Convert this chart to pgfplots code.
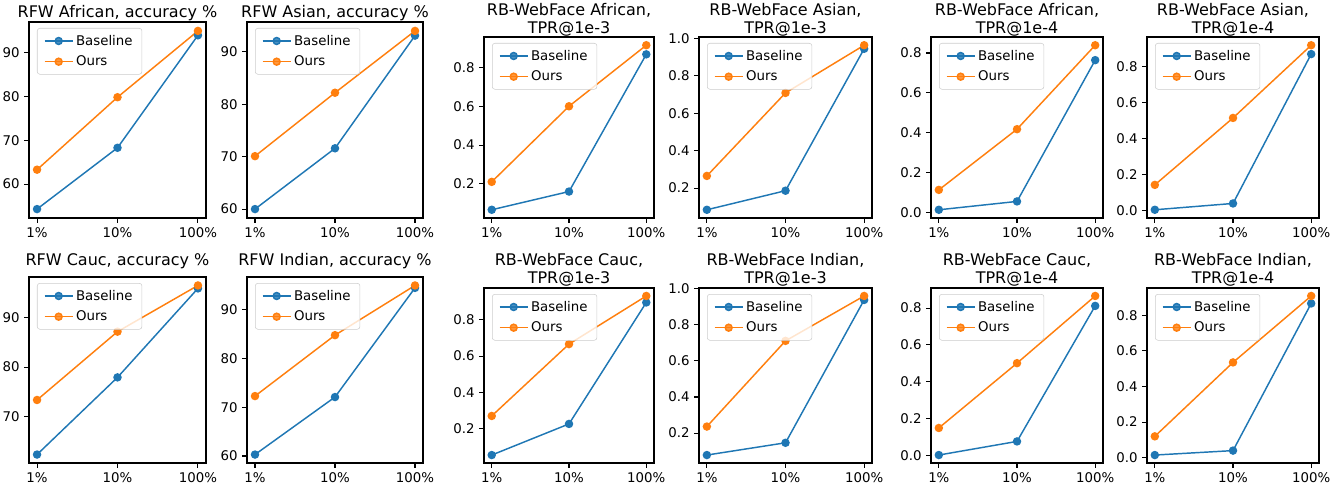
\documentclass[border=0pt]{standalone}
\usepackage{fontspec}
\setmainfont{DejaVu Sans}
\usepackage{pgfplots}
\pgfplotsset{compat=1.18}
\definecolor{mplblue}{HTML}{1F77B4}
\definecolor{mplorange}{HTML}{FF7F0E}

\pgfplotsset{
  panel/.style={
    scale only axis,
    anchor=north west,
    enlarge x limits=0.05,
    enlarge y limits=0.05,
    xtick={0,1,2},
    xticklabels={1\%,10\%,100\%},
    xtick pos=bottom, ytick pos=left,
    tick align=outside,
    major tick length=3.5pt,
    tick style={black, line width=0.8pt},
    axis line style={line width=0.8pt},
    ticklabel style={font=\fontsize{10}{12}\selectfont},
    /pgf/number format/assume math mode=true,
    legend cell align=left,
    legend style={at={(0,1)}, anchor=north west, xshift=6pt, yshift=-4.5pt,
      draw=black!20, rounded corners=2pt, fill=white, fill opacity=0.8, text opacity=1,
      font=\fontsize{10}{12}\selectfont, row sep=2.5pt, inner xsep=5pt, inner ysep=3pt},
    legend image code/.code={\draw[mark repeat=2,mark phase=2,##1] plot coordinates {(0pt,0pt)(10.5pt,0pt)(21pt,0pt)};},
  },
  % title placed with a chosen gap above the axis box
  tgap/.style={every axis title/.style={font=\fontsize{12}{13}\selectfont, align=center,
      at={(0.5,1)}, anchor=south, inner sep=0pt, yshift=#1}},
  base/.style={color=mplblue, line width=1.1pt, mark=*, mark size=2.6pt, mark options={solid}},
  ours/.style={color=mplorange, line width=1.1pt, mark=*, mark size=2.6pt, mark options={solid}},
  frac/.style={yticklabel style={/pgf/number format/.cd, fixed, fixed zerofill, precision=1}},
}

\begin{document}
\begin{tikzpicture}
\useasboundingbox (0,0) rectangle (997.5pt,364.5pt);

% row 1
\begin{axis}[panel, tgap=0.9pt, at={(21.75pt,348pt)}, width=132.75pt, height=147pt,
  ytick={60,70,80,90}, title={RFW African, accuracy \%}]
\addplot[base] coordinates {(0,54.3) (1,68.3) (2,94.0)};
\addplot[ours] coordinates {(0,63.3) (1,79.85) (2,95.0)};
\legend{Baseline,Ours}
\end{axis}

\begin{axis}[panel, tgap=0.9pt, at={(185.25pt,348pt)}, width=132pt, height=147pt,
  ytick={60,70,80,90}, title={RFW Asian, accuracy \%}]
\addplot[base] coordinates {(0,60.0) (1,71.6) (2,93.1)};
\addplot[ours] coordinates {(0,70.1) (1,82.2) (2,94.0)};
\legend{Baseline,Ours}
\end{axis}

\begin{axis}[panel, frac, tgap=0.5pt, at={(363pt,336.75pt)}, width=127.5pt, height=135.75pt,
  ytick={0.2,0.4,0.6,0.8}, title={RB-WebFace African,\\TPR@1e-3}]
\addplot[base] coordinates {(0,0.066) (1,0.160) (2,0.868)};
\addplot[ours] coordinates {(0,0.210) (1,0.600) (2,0.915)};
\legend{Baseline,Ours}
\end{axis}

\begin{axis}[panel, frac, tgap=0.5pt, at={(524.25pt,336.75pt)}, width=129.75pt, height=135.75pt,
  ytick={0.2,0.4,0.6,0.8,1.0}, title={RB-WebFace Asian,\\TPR@1e-3}]
\addplot[base] coordinates {(0,0.084) (1,0.186) (2,0.945)};
\addplot[ours] coordinates {(0,0.265) (1,0.709) (2,0.964)};
\legend{Baseline,Ours}
\end{axis}

\begin{axis}[panel, frac, tgap=0.5pt, at={(698.25pt,336.75pt)}, width=129pt, height=135.75pt,
  ytick={0,0.2,0.4,0.6,0.8}, title={RB-WebFace African,\\TPR@1e-4}]
\addplot[base] coordinates {(0,0.012) (1,0.054) (2,0.764)};
\addplot[ours] coordinates {(0,0.112) (1,0.417) (2,0.839)};
\legend{Baseline,Ours}
\end{axis}

\begin{axis}[panel, frac, tgap=0.5pt, at={(860.25pt,336.75pt)}, width=129pt, height=135.75pt,
  ytick={0,0.2,0.4,0.6,0.8}, title={RB-WebFace Asian,\\TPR@1e-4}]
\addplot[base] coordinates {(0,0.006) (1,0.041) (2,0.869)};
\addplot[ours] coordinates {(0,0.144) (1,0.515) (2,0.918)};
\legend{Baseline,Ours}
\end{axis}

% row 2
\begin{axis}[panel, tgap=6pt, at={(21.75pt,156.75pt)}, width=132.75pt, height=139.5pt,
  ytick={70,80,90}, title={RFW Cauc, accuracy \%}]
\addplot[base] coordinates {(0,62.2) (1,77.9) (2,96.0)};
\addplot[ours] coordinates {(0,73.3) (1,87.2) (2,96.6)};
\legend{Baseline,Ours}
\end{axis}

\begin{axis}[panel, tgap=6pt, at={(185.25pt,156.75pt)}, width=132pt, height=139.5pt,
  ytick={60,70,80,90}, title={RFW Indian, accuracy \%}]
\addplot[base] coordinates {(0,60.3) (1,72.1) (2,94.5)};
\addplot[ours] coordinates {(0,72.3) (1,84.8) (2,95.0)};
\legend{Baseline,Ours}
\end{axis}

\begin{axis}[panel, frac, tgap=1.3pt, at={(363pt,148.5pt)}, width=127.5pt, height=131.25pt,
  ytick={0.2,0.4,0.6,0.8}, title={RB-WebFace Cauc,\\TPR@1e-3}]
\addplot[base] coordinates {(0,0.053) (1,0.225) (2,0.896)};
\addplot[ours] coordinates {(0,0.269) (1,0.666) (2,0.932)};
\legend{Baseline,Ours}
\end{axis}

\begin{axis}[panel, frac, tgap=1.3pt, at={(524.25pt,148.5pt)}, width=129.75pt, height=131.25pt,
  ytick={0.2,0.4,0.6,0.8,1.0}, title={RB-WebFace Indian,\\TPR@1e-3}]
\addplot[base] coordinates {(0,0.078) (1,0.146) (2,0.938)};
\addplot[ours] coordinates {(0,0.236) (1,0.711) (2,0.960)};
\legend{Baseline,Ours}
\end{axis}

\begin{axis}[panel, frac, tgap=1.3pt, at={(698.25pt,148.5pt)}, width=129pt, height=131.25pt,
  ytick={0,0.2,0.4,0.6,0.8}, title={RB-WebFace Cauc,\\TPR@1e-4}]
\addplot[base] coordinates {(0,0.002) (1,0.076) (2,0.812)};
\addplot[ours] coordinates {(0,0.149) (1,0.501) (2,0.866)};
\legend{Baseline,Ours}
\end{axis}

\begin{axis}[panel, frac, tgap=1.3pt, at={(860.25pt,148.5pt)}, width=129pt, height=131.25pt,
  ytick={0,0.2,0.4,0.6,0.8}, title={RB-WebFace Indian,\\TPR@1e-4}]
\addplot[base] coordinates {(0,0.015) (1,0.040) (2,0.866)};
\addplot[ours] coordinates {(0,0.120) (1,0.535) (2,0.908)};
\legend{Baseline,Ours}
\end{axis}
\end{tikzpicture}
\end{document}
